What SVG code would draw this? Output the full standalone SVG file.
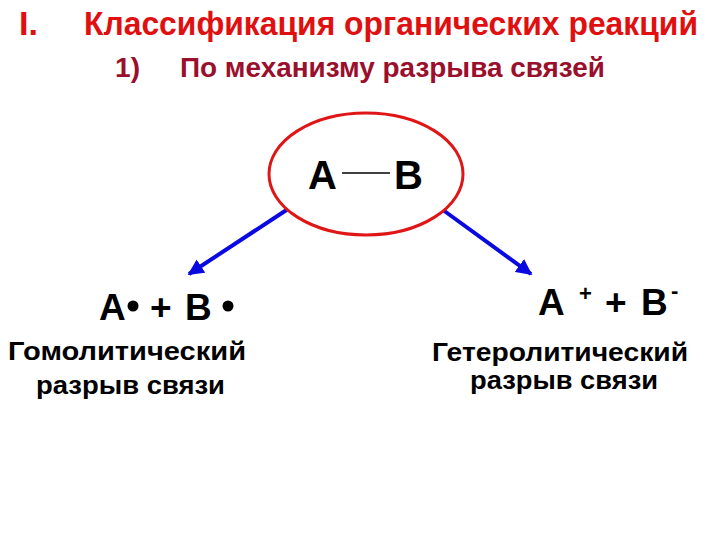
<svg xmlns="http://www.w3.org/2000/svg" width="720" height="540" viewBox="0 0 720 540">
<defs>
<style>
text{font-family:"Liberation Sans",Arial,sans-serif;font-weight:bold}
.t1{fill:#e01010;font-size:33px}
.t2{fill:#9a0f2c;font-size:28px}
.big{fill:#000;font-size:40px}
.mid{fill:#000;font-size:37px}
.lbl{fill:#000;font-size:25px}
.sup{fill:#000;font-size:22px}
.arr{stroke:#0a0ae0;stroke-width:4;fill:none}
</style>
<marker id="ah" viewBox="0 0 10 10" refX="9" refY="5" markerWidth="4" markerHeight="4" orient="auto" markerUnits="strokeWidth">
<path d="M0,0 L10,5 L0,10 z" fill="#0a0ae0"/>
</marker>
</defs>
<rect width="720" height="540" fill="#fff"/>
<g id="title">
<text class="t1" x="19" y="35" textLength="19" lengthAdjust="spacingAndGlyphs">I.</text>
<text class="t1" x="84" y="35" textLength="614" lengthAdjust="spacingAndGlyphs">Классификация органических реакций</text>
<text class="t2" x="115" y="77" textLength="25" lengthAdjust="spacingAndGlyphs">1)</text>
<text class="t2" x="180" y="77" textLength="425" lengthAdjust="spacingAndGlyphs">По механизму разрыва связей</text>
</g>
<g id="connectors">
<line class="arr" x1="288" y1="209" x2="189" y2="274" marker-end="url(#ah)"/>
<line class="arr" x1="443" y1="210" x2="531" y2="274" marker-end="url(#ah)"/>
</g>
<g id="ab">
<ellipse cx="366" cy="174" rx="97" ry="61" fill="none" stroke="#e01515" stroke-width="3"/>
<text class="big" x="308" y="189">A</text>
<line x1="342" y1="173" x2="390" y2="173" stroke="#000" stroke-width="1.5"/>
<text class="big" x="394" y="189">B</text>
</g>
<g id="homo">
<text class="mid" x="99" y="320">A</text>
<circle cx="133" cy="306" r="5.5" fill="#000"/>
<text class="mid" x="150" y="320">+</text>
<text class="mid" x="185" y="320">B</text>
<circle cx="228" cy="306" r="5.5" fill="#000"/>
<text class="lbl" x="8" y="360" textLength="238" lengthAdjust="spacingAndGlyphs">Гомолитический</text>
<text class="lbl" x="36" y="394" textLength="189" lengthAdjust="spacingAndGlyphs">разрыв связи</text>
</g>
<g id="hetero">
<text class="mid" x="538" y="315">A</text>
<text class="sup" x="579" y="301">+</text>
<text class="mid" x="605" y="315">+</text>
<text class="mid" x="641" y="315">B</text>
<text class="sup" x="671" y="298">-</text>
<text class="lbl" x="432" y="361" textLength="256" lengthAdjust="spacingAndGlyphs">Гетеролитический</text>
<text class="lbl" x="470" y="389" textLength="188" lengthAdjust="spacingAndGlyphs">разрыв связи</text>
</g>
</svg>
